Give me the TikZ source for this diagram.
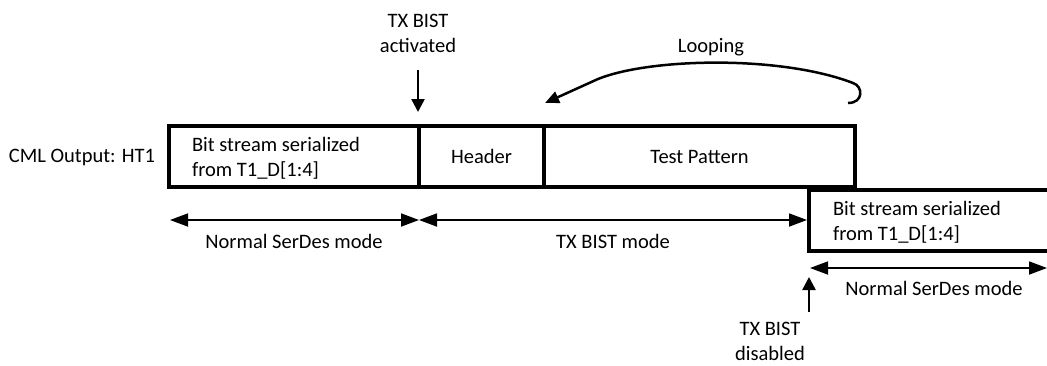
\documentclass[tikz,border=0pt]{standalone}
\usepackage{fontspec}
\setmainfont{Carlito}
\usetikzlibrary{arrows.meta}
\begin{document}
\begin{tikzpicture}[x=1pt,y=-1pt,
  every node/.style={font=\fontsize{20.5}{25}\selectfont, inner sep=0pt, outer sep=0pt},
  seg/.style={draw, line width=4.5pt, minimum height=61pt, anchor=north west},
  span/.style={line width=1.8pt, {Triangle[length=18pt,width=13pt]}-{Triangle[length=18pt,width=13pt]}},
  marker/.style={line width=2.5pt, -{Triangle[length=13pt,width=13pt]}},
  loopline/.style={line width=2.5pt, -{Triangle[length=14pt,width=12pt]}},
]
\useasboundingbox (0,0) rectangle (1047,365);

% first frame row
\node[seg, minimum width=250pt] (s1) at (169,126) {};
\node[seg, minimum width=125pt] (hdr) at (419,126) {};
\node[seg, minimum width=311pt] (tp) at (544,126) {};
\node[anchor=west, align=left] (s1t) at (192,158) {Bit stream serialized\\from T1\_D[1:4]};
\node (hdrt) at (hdr.center) {Header};
\node (tpt) at (tp.center) {Test Pattern};
\node[anchor=east] (cml) at (155,157) {CML Output: HT1};

% second frame row (continues past the right edge)
\node[seg, minimum width=250pt] (s2) at (809,190) {};
\node[anchor=west, align=left] (s2t) at (833,222) {Bit stream serialized\\from T1\_D[1:4]};

% mode spans
\coordinate (a1) at (170,220);
\coordinate (a2) at (419,220);
\coordinate (a3) at (807,220);
\coordinate (b1) at (810,268);
\coordinate (b2) at (1047,268);
\draw[span] (a1) -- (a2);
\draw[span] (a2) -- (a3);
\draw[span] (b1) -- (b2);
\node (m1) at (294,241) {Normal SerDes mode};
\node (m2) at (613,241) {TX BIST mode};
\node (m3) at (934,288) {Normal SerDes mode};

% BIST events
\node[align=center] (act) at (418,33) {TX BIST\\activated};
\coordinate (actTip) at (418,112);
\draw[marker] ([yshift=-18pt]act.south) -- (actTip);

\node[align=center] (dis) at (770,341) {TX BIST\\disabled};
\coordinate (disTail) at (809,312);
\coordinate (disTip) at (809,277);
\draw[marker] (disTail) -- (disTip);

% looping back from the end of the test pattern to its start
\node (loop) at (711,47) {Looping};
\coordinate (hookEnd) at (848,103);
\coordinate (hookTop) at (853,83);
\coordinate (kink) at (598,79);
\coordinate (loopTip) at (545,103);
\draw[loopline] (hookEnd) .. controls (864,103) and (863,86) .. (hookTop)
  .. controls (780,55) and (650,58) .. (kink) -- (loopTip);
\end{tikzpicture}
\end{document}
